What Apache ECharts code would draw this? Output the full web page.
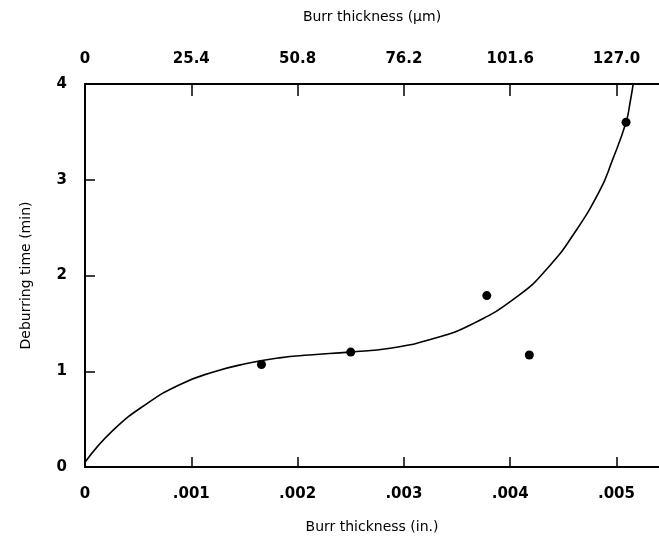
<!DOCTYPE html>
<html><head><meta charset="utf-8">
<script src="https://cdn.jsdelivr.net/npm/echarts@6/dist/echarts.min.js"></script>
<style>html,body{margin:0;padding:0;background:#fff}#c{width:659px;height:542px}</style>
</head><body><div id="c"></div>
<script>
// Measured points (in., min)
var pointX = [0.00166, 0.0025, 0.00378, 0.00418, 0.00509];
var pointY = [1.07, 1.20, 1.79, 1.17, 3.60];
// Fitted curve
var curveX = [0, 0.00026, 0.00058, 0.00089, 0.0012, 0.00152, 0.00183, 0.00211, 0.00249, 0.00287, 0.00324, 0.00362, 0.00409, 0.00437, 0.00459, 0.00484, 0.00496, 0.00509, 0.00513, 0.00516];
var curveY = [0.05, 0.38, 0.66, 0.86, 0.99, 1.08, 1.14, 1.17, 1.20, 1.24, 1.33, 1.48, 1.80, 2.10, 2.42, 2.88, 3.20, 3.60, 3.82, 4.02];
var inchTicks = ['0', '.001', '.002', '.003', '.004', '.005'];
var micronTicks = ['0', '25.4', '50.8', '76.2', '101.6', '127.0'];
var xMaxIn = 0.0054;
var yTicks = ['0', '1', '2', '3', '4'];
var bottomTitle = 'Burr thickness (in.)';
var topTitle = 'Burr thickness (\u00b5m)';
var yTitle = 'Deburring time (min)';

var font = 'DejaVu Sans';
var lbl = {color:'#000', fontFamily:font, fontWeight:'bold', fontSize:15};
var nts = {color:'#000', fontFamily:font, fontSize:14};
var chart = echarts.init(document.getElementById('c'), null, {renderer:'canvas'});
chart.setOption({
  animation:false,
  backgroundColor:'#fff',
  grid:{left:85, top:84, right:0, bottom:75, containLabel:false},
  xAxis:[{
    type:'value', position:'bottom', min:0, max:xMaxIn, interval:0.001,
    name:bottomTitle, nameLocation:'middle', nameGap:53, nameTextStyle:nts,
    axisLine:{show:true, lineStyle:{color:'#000', width:2}},
    axisTick:{show:true, inside:true, length:10, lineStyle:{color:'#000', width:1.5}},
    axisLabel:Object.assign({margin:20, showMaxLabel:false, formatter:function(v){var i=Math.round(v/0.001);return inchTicks[i]||'';}}, lbl),
    splitLine:{show:false}
  },{
    type:'value', position:'top', min:0, max:xMaxIn*25400, interval:25.4,
    name:topTitle, nameLocation:'middle', nameGap:60, nameTextStyle:nts,
    axisLine:{show:true, lineStyle:{color:'#000', width:2}},
    axisTick:{show:true, inside:true, length:12, lineStyle:{color:'#000', width:1.5}},
    axisLabel:Object.assign({margin:17, showMaxLabel:false, formatter:function(v){var i=Math.round(v/25.4);return micronTicks[i]||'';}}, lbl),
    splitLine:{show:false}
  }],
  yAxis:{
    type:'value', min:0, max:4, interval:1,
    name:yTitle, nameLocation:'middle', nameGap:52, nameRotate:90, nameTextStyle:nts,
    axisLine:{show:true, lineStyle:{color:'#000', width:2}},
    axisTick:{show:true, inside:true, length:10, lineStyle:{color:'#000', width:1.5}},
    axisLabel:Object.assign({margin:18, formatter:function(v){return yTicks[Math.round(v)];}}, lbl),
    splitLine:{show:false}
  },
  series:[{
    type:'line', xAxisIndex:0, smooth:0.5, showSymbol:false, clip:true,
    lineStyle:{color:'#000', width:1.6},
    data:curveX.map(function(x,i){return [x, curveY[i]];})
  },{
    type:'scatter', xAxisIndex:0, symbolSize:9,
    itemStyle:{color:'#000', opacity:1},
    data:pointX.map(function(x,i){return [x, pointY[i]];})
  }]
});
</script></body></html>
